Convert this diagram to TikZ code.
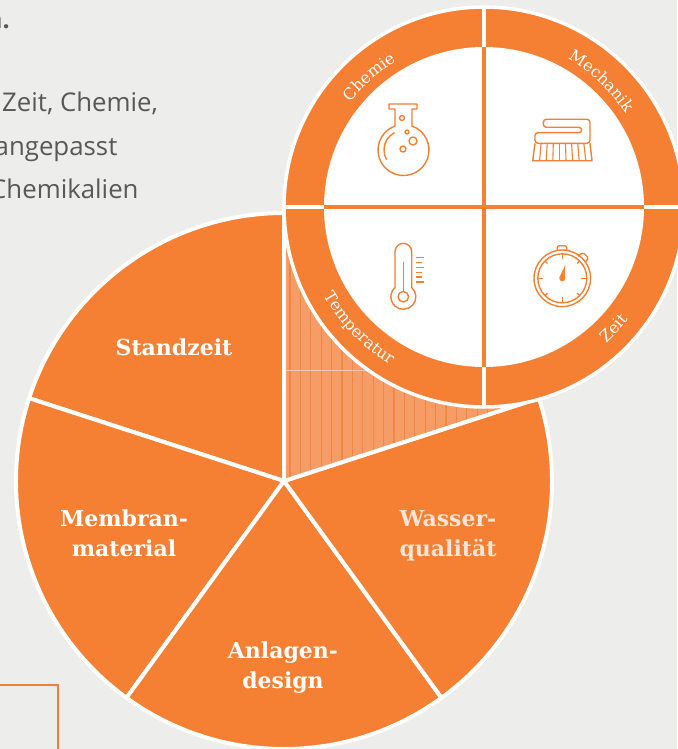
\documentclass[tikz,border=0pt]{standalone}
\usepackage{fontspec}
\setmainfont{Open Sans}
\newfontfamily\slabfont{DejaVu Serif}
\usetikzlibrary{decorations.text, calc}

\definecolor{segorange}{HTML}{F57F32}
\definecolor{hatchlight}{HTML}{F69C66}
\definecolor{hatchdark}{HTML}{EE8644}
\definecolor{paper}{HTML}{EDEDEB}
\definecolor{bodygray}{HTML}{585858}

\tikzset{
  segment/.style={fill=segorange,draw=white,line width=4pt,line join=round},
  seglabel/.style={text=white,align=center,font=\slabfont\bfseries\fontsize{22}{30}\selectfont},
  bodytext/.style={text=bodygray,anchor=base west,inner sep=0pt,font=\fontsize{25.8}{28}\selectfont},
  icon/.style={draw=segorange,line width=1.4pt,line join=round},
  ringtext/.style={decorate,decoration={text along path,text align=center,text={|\slabfont\fontsize{16}{18}\selectfont\color{white}|#1}}}
}

\begin{document}
\begin{tikzpicture}[x=1pt,y=-1pt]
      \def\bigr{268}
      \def\ringr{200}
      \def\innerr{160}
      \coordinate (big) at (284,481);
      \coordinate (small) at (484,207);

      \useasboundingbox (0,0) rectangle (677,749);
      \fill[paper] (0,0) rectangle (677,749);

      % text column and box, cut by the page
      \node[bodytext,font=\bfseries\fontsize{25}{28}\selectfont] (lineone) at (-14,29) {n.};
      \node[bodytext] (linetwo) at (2,112) {Zeit, Chemie,};
      \node[bodytext] (linethree) at (-5.5,155) {angepasst};
      \node[bodytext] (linefour) at (-10,198) {Chemikalien};
      \draw[segorange,line width=2.5pt] (-2,685) -- (58,685) -- (58,751);

      % pie
      \draw[segment] (big) -- ++(198:\bigr) arc[start angle=198,end angle=270,radius=\bigr] -- cycle;
      \draw[segment] (big) -- ++(126:\bigr) arc[start angle=126,end angle=198,radius=\bigr] -- cycle;
      \draw[segment] (big) -- ++(54:\bigr) arc[start angle=54,end angle=126,radius=\bigr] -- cycle;
      \draw[segment] (big) -- ++(-18:\bigr) arc[start angle=-18,end angle=54,radius=\bigr] -- cycle;

      \begin{scope}
        \clip (big) -- ++(-90:\bigr) arc[start angle=-90,end angle=-18,radius=\bigr] -- cycle;
        \fill[hatchlight] (284,200) rectangle (560,490);
        \foreach \n in {0,...,24}
          \draw[hatchdark,line width=1.2pt] (290+10.4*\n,200) -- (290+10.4*\n,490);
        \draw[white!45!hatchlight,line width=.6pt] (284,370) -- (400,370);
      \end{scope}
      \draw[white,line width=4pt,line cap=round] (big) -- ++(-90:\bigr);
      \draw[white,line width=4pt,line cap=round] (big) -- ++(-18:\bigr);

      \node[seglabel] (standzeit) at (174,347) {Standzeit};
      \node[seglabel] (membran) at (124,533) {Membran-\\material};
      \node[seglabel,text=white!80!segorange] (wasser) at (448,536) {Wasser-\\qualität};
      \node[seglabel] (anlagen) at (283,667.5) {Anlagen-\\design};

      % ring
      \fill[segorange,draw=white,line width=3.5pt] (small) circle[radius=\ringr];
      \fill[white] (small) circle[radius=\innerr];
      \draw[white,line width=3.5pt] (484,7) -- (484,47);
      \draw[white,line width=3.5pt] (484,367) -- (484,407);
      \draw[white,line width=3.5pt] (284,207) -- (324,207);
      \draw[white,line width=3.5pt] (644,207) -- (684,207);
      \draw[segorange,line width=3.5pt] (484,47) -- (484,367);
      \draw[segorange,line width=3.5pt] (324,207) -- (644,207);

      \path[ringtext=Chemie] ($(small)+(203:170)$) arc[start angle=203,end angle=254,radius=170];
      \path[ringtext=Mechanik] ($(small)+(287:170)$) arc[start angle=287,end angle=339,radius=170];
      \path[ringtext=Temperatur] ($(small)+(175:183)$) arc[start angle=175,end angle=97,radius=183];
      \path[ringtext=Zeit] ($(small)+(68:183)$) arc[start angle=68,end angle=18,radius=183];

      % flask
      \draw[icon] (395,109) -- (389,109) -- (389,104) -- (417,104) -- (417,109) -- (412,109) -- (412,126)
        arc[start angle=-70.5,end angle=250.5,radius=25.5] -- (395,109);
      \draw[icon] (394.6,132.6) arc[start angle=243,end angle=150,radius=19.5];
      \draw[icon] (402,118) circle[radius=2.5];
      \draw[icon] (407,132) circle[radius=2];
      \draw[icon] (413,141) circle[radius=4];
      \draw[icon] (403,149) circle[radius=3];

      % brush
      \draw[icon,rounded corners=3pt] (581.7,132.7) -- (581.7,127.3) -- (543.3,127.3) -- (543.3,119.3) -- (582,119.3)
        -- (590,119.3) -- (590,143.3) -- (535,143.3) -- (535,132.7) -- cycle;
      \draw[icon] (535,143.3) -- (532.7,160.7) -- (592,160.7) -- (590,143.3);
      \foreach \n in {1,...,8}
        \draw[icon,line width=1.1pt] (535+6.1*\n,143.3) -- (533+6.6*\n,160.7);

      % thermometer
      \draw[icon] (395,287.5) -- (395,251.7) arc[start angle=180,end angle=360,radius=8.35] -- (411.7,287.5)
        arc[start angle=-48,end angle=228,radius=12.5];
      \draw[icon] (403.3,296.7) circle[radius=5.3];
      \draw[icon] (403.3,261.7) -- (403.3,291);
      \foreach \yy/\xx in {257.7/424.3,262.7/422,267.7/424.3,272.3/422,277/422,282/424.3}
        \draw[icon] (415.7,\yy) -- (\xx,\yy);

      % stopwatch
      \draw[icon] (562.3,278.3) circle[radius=28.3];
      \draw[icon] (562.3,278.3) circle[radius=24.5];
      \draw[icon,rounded corners=2pt] (557.3,251) -- (557.3,245.7) -- (566.7,245.7) -- (566.7,251);
      \draw[icon,rounded corners=1.5pt] (578,256) -- (583,252.5) -- (588.5,258) -- (585,262.5);
      \foreach \a in {0,90,180,270}
        \draw[icon] ($(562.3,278.3)+(\a:24.5)$) -- ($(562.3,278.3)+(\a:19)$);
      \foreach \a in {45,135,225,315}
        \draw[icon] ($(562.3,278.3)+(\a:24.5)$) -- ($(562.3,278.3)+(\a:21)$);
      \fill[segorange] (562.3,278.3) circle[radius=3];
      \fill[segorange] (559.6,277) -- (565.3,265) -- (565,279) -- cycle;
\end{tikzpicture}
\end{document}
